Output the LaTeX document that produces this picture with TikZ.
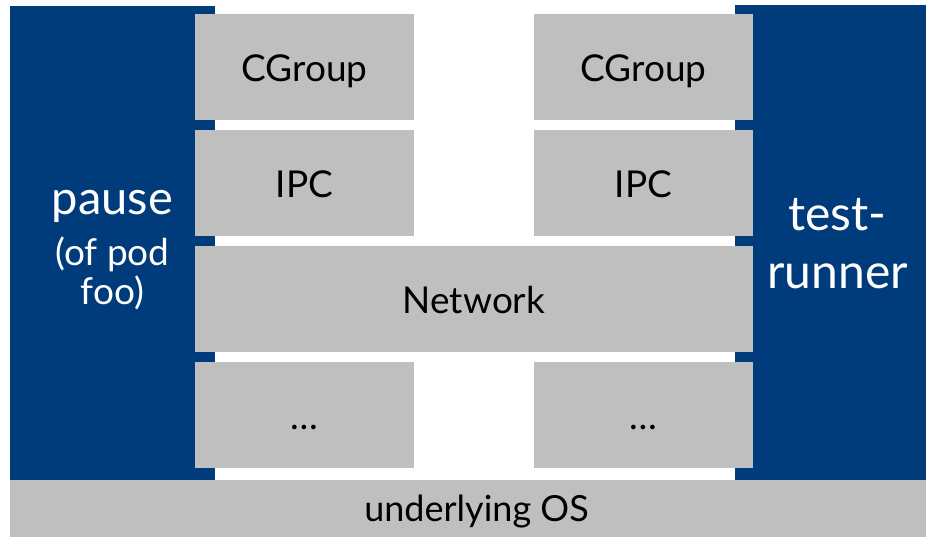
\documentclass[tikz,border=0pt]{standalone}
\usepackage{fontspec}
\setmainfont{Lato}
\definecolor{podblue}{HTML}{003B7B}
\definecolor{layergray}{HTML}{BFBFBF}
\tikzset{
  container/.style={fill=podblue, draw=none, inner sep=0pt},
  label/.style={text=white, inner sep=0pt, anchor=base},
  layer/.style={fill=layergray, draw=none, inner sep=0pt, text=black,
    minimum width=219pt, minimum height=106pt, text height=28pt, text depth=0pt,
    font=\fontsize{37}{40}\selectfont},
}
\begin{document}
\begin{tikzpicture}[x=1pt,y=-1pt]
  \useasboundingbox (0,0) rectangle (926,538);
  \clip (0,0) rectangle (926,538);
  % containers
  \node[container, minimum width=205pt, minimum height=474pt] (pause) at (112.5,243) {};
  \node[container, minimum width=205pt, minimum height=475pt] (runner) at (837.5,242.5) {};
  \node[label, font=\fontsize{47}{50}\selectfont] (pauseA) at (112.5,214) {pause};
  \node[label, font=\fontsize{37}{40}\selectfont] (pauseB) at (112.5,265) {(of pod};
  \node[label, font=\fontsize{37}{40}\selectfont] (pauseC) at (112.5,304) {foo)};
  \node[label, font=\fontsize{48}{50}\selectfont] (runnerA) at (837.5,230) {test-};
  \node[label, font=\fontsize{48}{50}\selectfont] (runnerB) at (837.5,288) {runner};
  % namespaces of the left container
  \node[layer] (cgl) at (304.5,67) {CGroup};
  \node[layer] (ipcl) at (304.5,183) {IPC};
  \node[layer] (etcl) at (304.5,415) {…};
  % namespaces of the right container
  \node[layer] (cgr) at (643.5,67) {CGroup};
  \node[layer] (ipcr) at (643.5,183) {IPC};
  \node[layer] (etcr) at (643.5,415) {…};
  % shared network namespace
  \node[layer, minimum width=558pt] (net) at (474,299) {Network};
  % host
  \node[layer, minimum width=933pt, minimum height=57pt, text height=25pt,
    font=\fontsize{36}{40}\selectfont] (os) at (476.5,508.5) {underlying OS};
\end{tikzpicture}
\end{document}
